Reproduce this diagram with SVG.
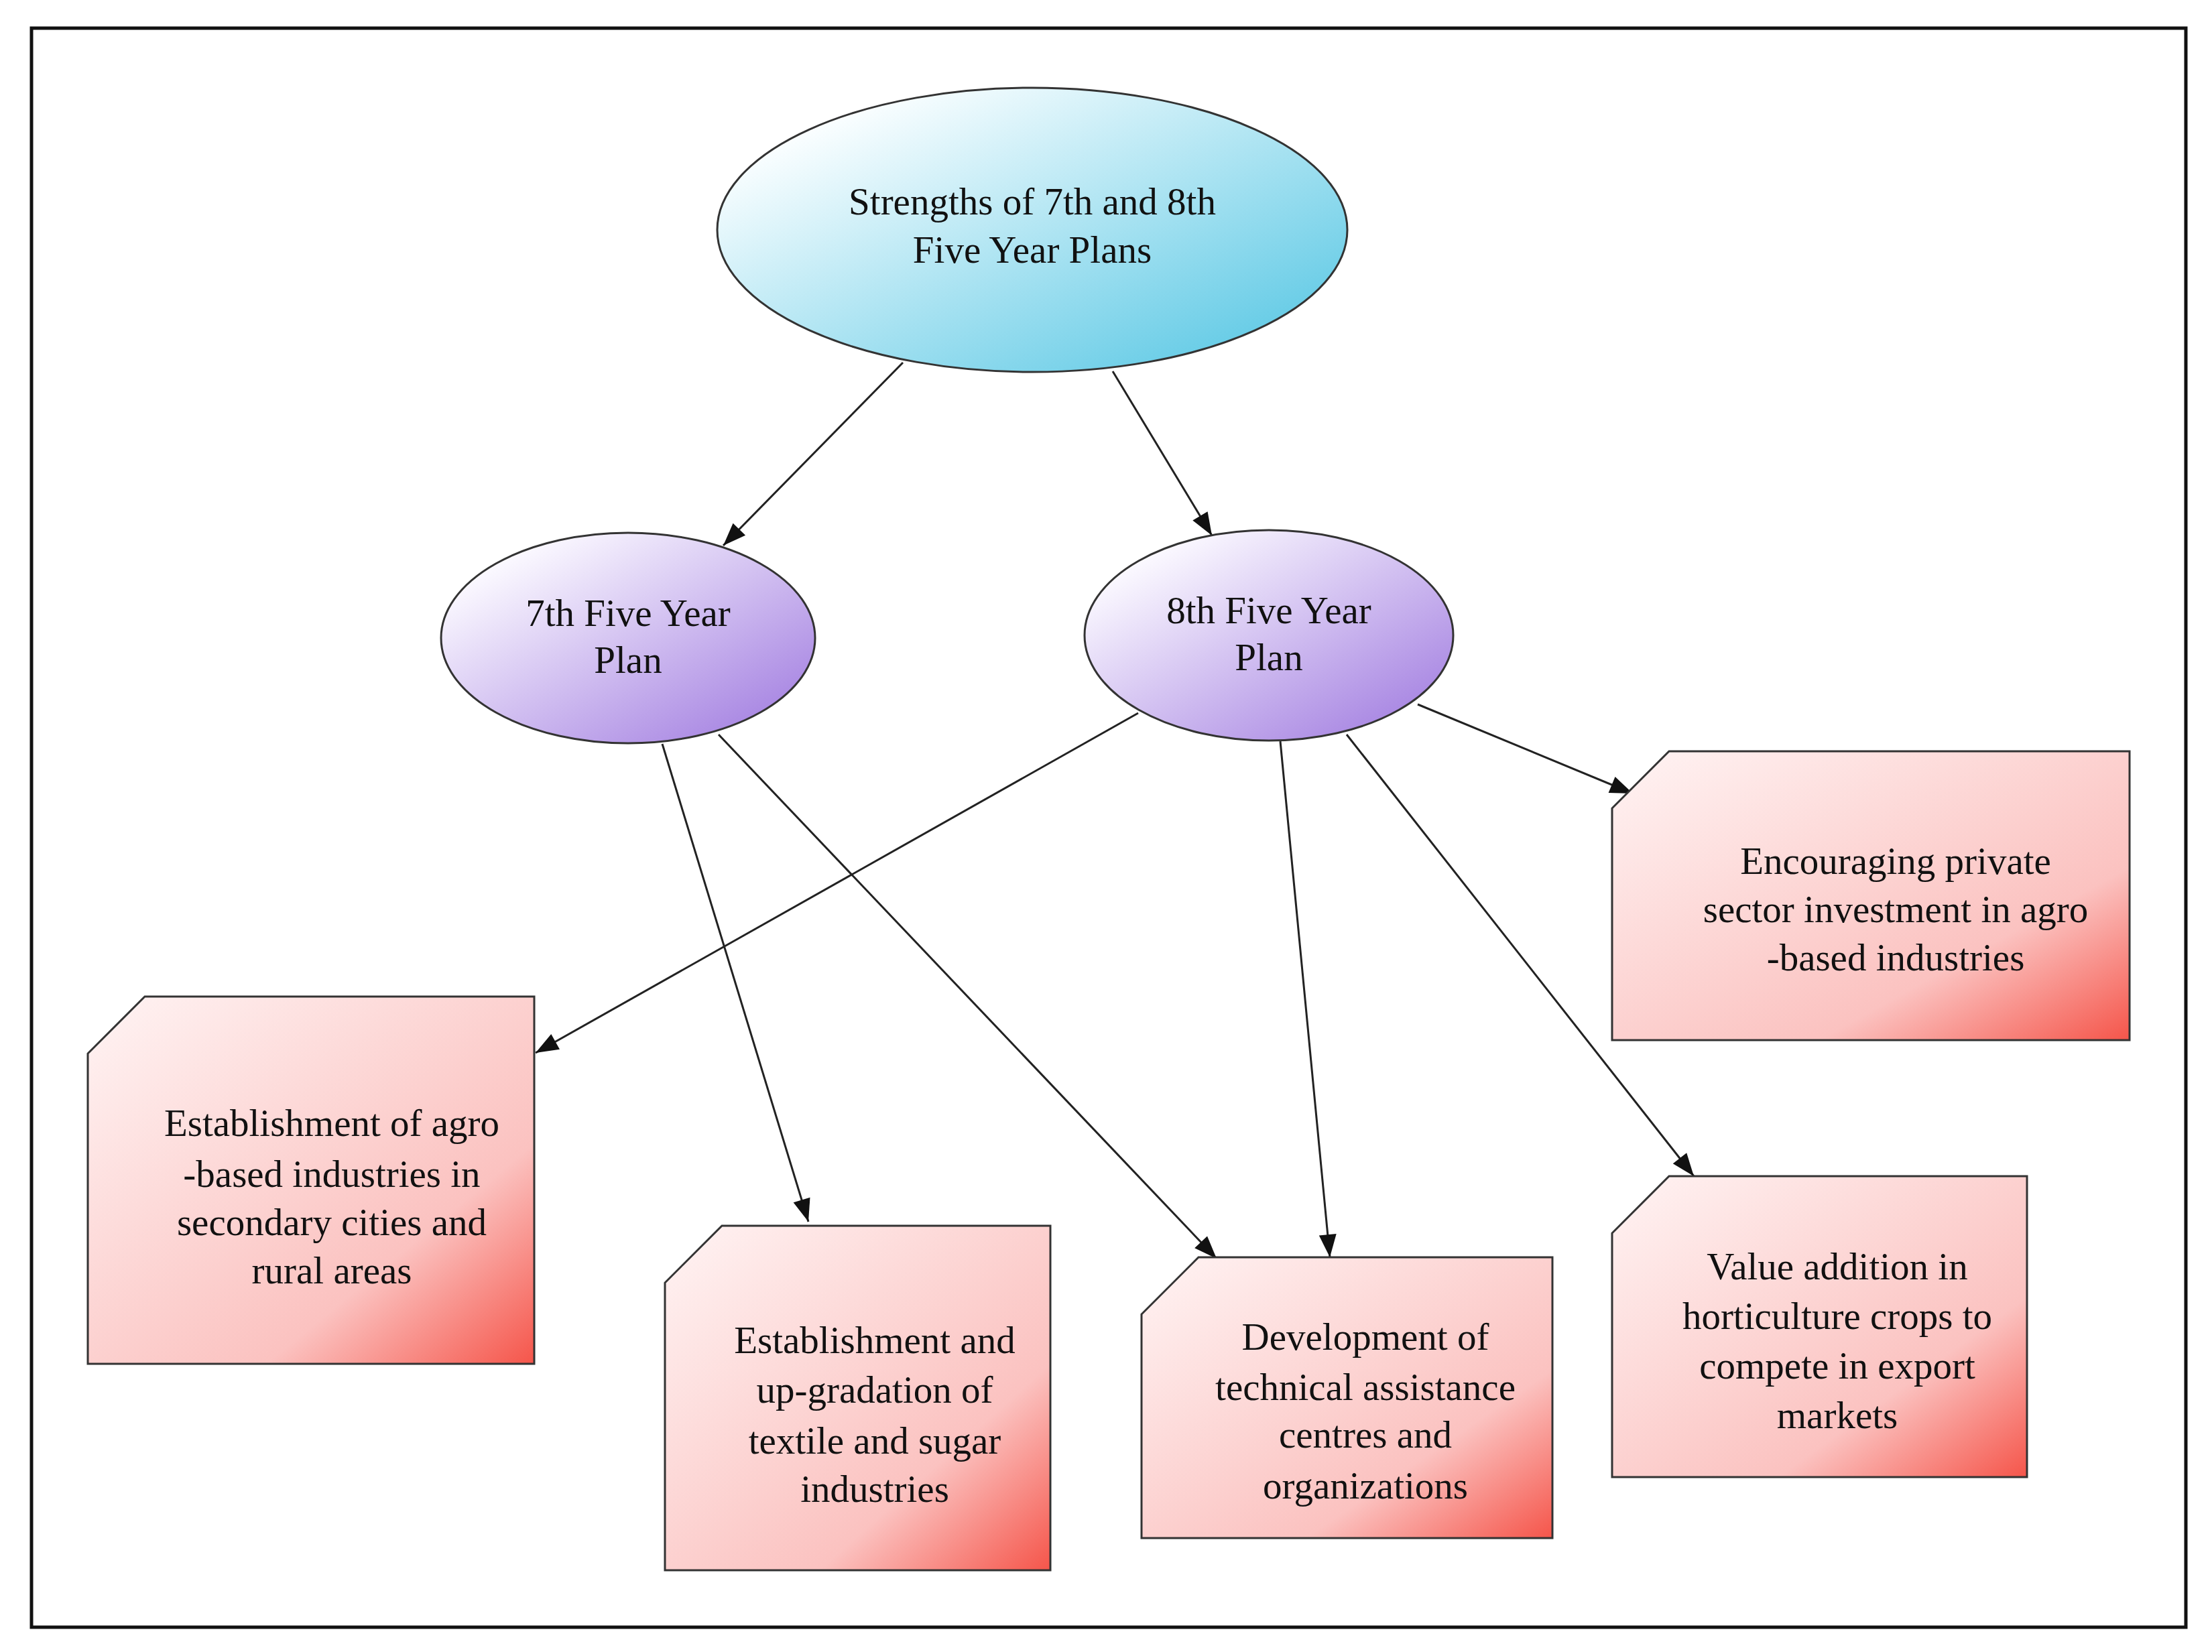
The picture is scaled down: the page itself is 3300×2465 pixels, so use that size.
<svg xmlns="http://www.w3.org/2000/svg" width="3300" height="2465" viewBox="0 0 3300 2465">
<style>
text{font-family:"Liberation Serif","Times New Roman",serif;font-size:57px;fill:#111;text-anchor:middle;dominant-baseline:central}
.n{stroke:#333;stroke-width:3}
.c line{stroke:#222;stroke-width:3;marker-end:url(#ah)}
</style>
<defs>
<linearGradient id="gb" x1="0" y1="0" x2="1" y2="1"><stop offset="0.15" stop-color="#fafeff"/><stop offset="1" stop-color="#4cc3e2"/></linearGradient>
<linearGradient id="gp" x1="0" y1="0" x2="1" y2="1"><stop offset="0.15" stop-color="#fbf9ff"/><stop offset="1" stop-color="#9b74de"/></linearGradient>
<linearGradient id="gr" x1="0" y1="0" x2="1" y2="1"><stop offset="0" stop-color="#fff4f4"/><stop offset="0.7" stop-color="#fbc2c0"/><stop offset="1" stop-color="#f5554a"/></linearGradient>
<marker id="ah" viewBox="0 0 10 10" refX="9" refY="5" markerWidth="12" markerHeight="12" markerUnits="userSpaceOnUse" orient="auto"><path d="M0,0L10,5L0,10z" fill="#111"/></marker>
<marker id="ah2" viewBox="0 0 10 10" refX="9" refY="5" markerWidth="30" markerHeight="30" orient="auto"/>
</defs>
<rect x="47" y="42" width="3214" height="2386" fill="#fff" stroke="#111" stroke-width="5"/>
<g class="c">
<line x1="1347" y1="541" x2="1079" y2="814" style="marker-end:none"/>
<line x1="1660" y1="554" x2="1808" y2="799" style="marker-end:none"/>
<line x1="988" y1="1110" x2="1206" y2="1823" style="marker-end:none"/>
<line x1="1072" y1="1096" x2="1815" y2="1878" style="marker-end:none"/>
<line x1="1698" y1="1064" x2="799" y2="1571" style="marker-end:none"/>
<line x1="1910" y1="1106" x2="1984" y2="1876" style="marker-end:none"/>
<line x1="2009" y1="1096" x2="2527" y2="1755" style="marker-end:none"/>
<line x1="2115" y1="1051" x2="2436" y2="1184" style="marker-end:none"/>
<g fill="#111">
<polygon points="0,0 -34,-13 -34,13" transform="translate(1079,814) rotate(134.5)"/>
<polygon points="0,0 -34,-13 -34,13" transform="translate(1808,799) rotate(58.9)"/>
<polygon points="0,0 -34,-13 -34,13" transform="translate(1206,1823) rotate(73)"/>
<polygon points="0,0 -34,-13 -34,13" transform="translate(1815,1878) rotate(46.5)"/>
<polygon points="0,0 -34,-13 -34,13" transform="translate(799,1571) rotate(150.6)"/>
<polygon points="0,0 -34,-13 -34,13" transform="translate(1984,1876) rotate(84.5)"/>
<polygon points="0,0 -34,-13 -34,13" transform="translate(2527,1755) rotate(51.8)"/>
<polygon points="0,0 -34,-13 -34,13" transform="translate(2436,1184) rotate(22.5)"/>
</g>
</g>
<g id="top"><ellipse class="n" cx="1540" cy="343" rx="470" ry="212" fill="url(#gb)"/><text x="1540" y="300">Strengths of 7th and 8th</text><text x="1540" y="372">Five Year Plans</text></g>
<g id="p7"><ellipse class="n" cx="937" cy="952" rx="279" ry="157" fill="url(#gp)"/><text x="937" y="914">7th Five Year</text><text x="937" y="984">Plan</text></g>
<g id="p8"><ellipse class="n" cx="1893" cy="948" rx="275" ry="157" fill="url(#gp)"/><text x="1893" y="910">8th Five Year</text><text x="1893" y="980">Plan</text></g>
<g id="bA"><path class="n" d="M216,1487H797V2035H131V1572z" fill="url(#gr)"/><text x="495" y="1675">Establishment of agro</text><text x="495" y="1751">-based industries in</text><text x="495" y="1823">secondary cities and</text><text x="495" y="1895">rural areas</text></g>
<g id="bB"><path class="n" d="M1077,1829H1567V2343H992V1914z" fill="url(#gr)"/><text x="1305" y="1999">Establishment and</text><text x="1305" y="2073">up-gradation of</text><text x="1305" y="2149">textile and sugar</text><text x="1305" y="2221">industries</text></g>
<g id="bC"><path class="n" d="M1788,1876H2316V2295H1703V1961z" fill="url(#gr)"/><text x="2037" y="1994">Development of</text><text x="2037" y="2069">technical assistance</text><text x="2037" y="2140">centres and</text><text x="2037" y="2216">organizations</text></g>
<g id="bD"><path class="n" d="M2490,1755H3024V2204H2405V1840z" fill="url(#gr)"/><text x="2741" y="1889">Value addition in</text><text x="2741" y="1963">horticulture crops to</text><text x="2741" y="2037">compete in export</text><text x="2741" y="2111">markets</text></g>
<g id="bE"><path class="n" d="M2490,1121H3177V1552H2405V1206z" fill="url(#gr)"/><text x="2828" y="1284">Encouraging private</text><text x="2828" y="1356">sector investment in agro</text><text x="2828" y="1428">-based industries</text></g>
</svg>
